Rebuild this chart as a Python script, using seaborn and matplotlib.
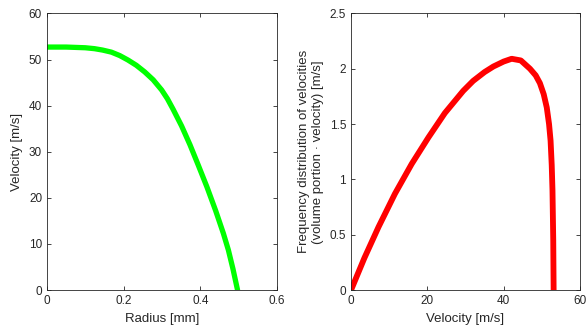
import pandas as pd
import matplotlib.pyplot as plt
import seaborn as sns

# velocity profile (left)
radius = [0.0, 0.05, 0.10, 0.124, 0.145, 0.168, 0.19, 0.211, 0.233, 0.255, 0.277, 0.299,
          0.314, 0.329, 0.351, 0.373, 0.395, 0.417, 0.44, 0.46, 0.473, 0.485, 0.497]
velocity = [52.7, 52.7, 52.55, 52.35, 52.05, 51.6, 50.85, 49.9, 48.75, 47.3, 45.6, 43.4,
            41.5, 39.2, 35.6, 31.5, 27.0, 22.4, 17.2, 12.3, 8.7, 4.6, 0.0]

# frequency distribution of velocities (right)
vel = [0.0, 3.5, 7.2, 11.5, 15.9, 20.3, 24.6, 29.4, 32.0, 35.0, 37.3, 40.0, 42.1, 44.5,
       46.9, 48.4, 49.5, 50.5, 51.3, 51.9, 52.3, 52.6, 52.8, 53.0, 53.1]
freq = [0.0, 0.29, 0.57, 0.87, 1.14, 1.38, 1.60, 1.80, 1.89, 1.97, 2.02, 2.065, 2.09, 2.075,
        2.0, 1.94, 1.87, 1.77, 1.65, 1.50, 1.35, 1.13, 0.9, 0.45, 0.0]

df_left = pd.DataFrame({'radius': radius, 'velocity': velocity})
df_right = pd.DataFrame({'vel': vel, 'freq': freq})

sns.set_style('white')
plt.rcParams['font.family'] = ['Liberation Sans', 'DejaVu Sans']

fig = plt.figure(figsize=(5.87, 3.35), dpi=100)
ax1 = fig.add_axes([0.080, 0.134, 0.392, 0.826])
ax2 = fig.add_axes([0.598, 0.134, 0.390, 0.826])

sns.lineplot(data=df_left, x='radius', y='velocity', ax=ax1, color='#00ff00',
             linewidth=3.8, sort=False, estimator=None)
sns.lineplot(data=df_right, x='vel', y='freq', ax=ax2, color='#ff0000',
             linewidth=4.2, sort=False, estimator=None)

ax1.set_xlim(0, 0.6)
ax1.set_ylim(0, 60)
ax1.set_xticks([0, 0.2, 0.4, 0.6])
ax1.set_xticklabels(['0', '0.2', '0.4', '0.6'])
ax1.set_yticks([0, 10, 20, 30, 40, 50, 60])
ax1.set_xlabel('Radius [mm]', fontsize=9.5, color='#262626')
ax1.set_ylabel('Velocity [m/s]', fontsize=9.5, color='#262626')

ax2.set_xlim(0, 60)
ax2.set_ylim(0, 2.5)
ax2.set_xticks([0, 20, 40, 60])
ax2.set_yticks([0, 0.5, 1, 1.5, 2, 2.5])
ax2.set_yticklabels(['0', '0.5', '1', '1.5', '2', '2.5'])
ax2.set_xlabel('Velocity [m/s]', fontsize=9.5, color='#262626')
ax2.set_ylabel('Frequency distribution of velocities\n(volume portion \u00b7 velocity) [m/s]',
               fontsize=9.5, color='#262626')

for ax in (ax1, ax2):
    for s in ax.spines.values():
        s.set_color('#262626')
        s.set_linewidth(0.6)
        s.set_visible(True)
    ax.tick_params(direction='in', length=3, width=0.6, colors='#262626',
                   labelsize=8.5, top=True, right=True, bottom=True, left=True,
                   labeltop=False, labelright=False)

plt.savefig('out.png', dpi=100)
